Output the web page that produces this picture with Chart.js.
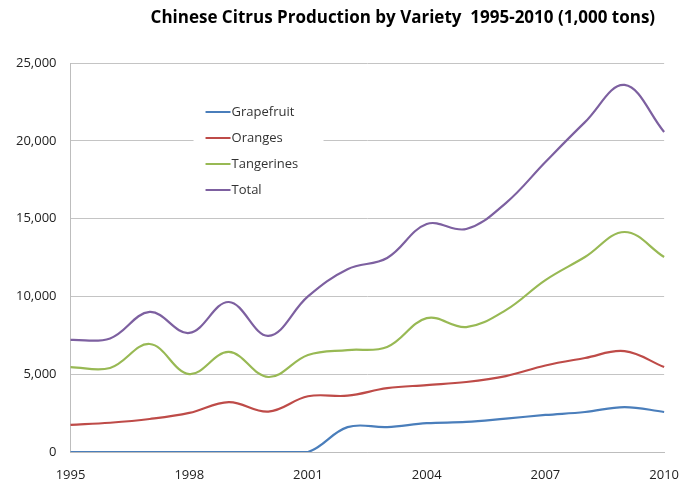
<!DOCTYPE html>
<html>
<head>
<meta charset="utf-8">
<script src="https://cdn.jsdelivr.net/npm/chart.js@4"></script>
<style>
    html, body { margin: 0; padding: 0; background: #fff; }
    #wrap { width: 694px; height: 479px; }
</style>
</head>
<body>
<div id="wrap"><canvas id="citrus"></canvas></div>
<script>
const years = ['1995', '1996', '1997', '1998', '1999', '2000', '2001', '2002',
    '2003', '2004', '2005', '2006', '2007', '2008', '2009', '2010'];
const grapefruit = [0, 0, 0, 0, 0, 0, 0, 1600, 1600, 1850, 1930, 2150, 2380, 2570, 2890, 2570];
const oranges = [1740, 1880, 2120, 2510, 3210, 2600, 3580, 3620, 4100, 4300, 4500, 4880, 5560, 6040, 6480, 5460];
const tangerines = [5460, 5400, 6940, 5010, 6430, 4820, 6230, 6550, 6750, 8600, 8030, 9120, 11050, 12530, 14140, 12530];
const totals = [7200, 7300, 9000, 7650, 9640, 7460, 10000, 11750, 12470, 14650, 14330, 16000, 18640, 21200, 23590, 20570];
const yTicks = [0, 5000, 10000, 15000, 20000, 25000];

const chartTitle = 'Chinese Citrus Production by Variety  1995-2010 (1,000 tons)';
const font = '"Open Sans", "DejaVu Sans", sans-serif';

// title sits right of center in the original, so draw it by hand
const titlePlugin = {
    id: 'titleText',
    afterDraw(chart) {
        const ctx = chart.ctx;
        ctx.save();
        ctx.font = 'bold 17px ' + font;
        ctx.fillStyle = '#000';
        ctx.textAlign = 'right';
        ctx.textBaseline = 'middle';
        ctx.fillText(chartTitle, chart.chartArea.right - 9, 18);
        ctx.restore();
    }
};

// legend box floating inside the plot area
const legendPlugin = {
    id: 'insideLegend',
    afterDraw(chart) {
        const ctx = chart.ctx;
        const area = chart.chartArea;
        const x = area.left + 135;
        const y = area.top + 49;
        ctx.save();
        ctx.fillStyle = '#fff';
        ctx.fillRect(x - 12, y - 12, 130, 100);
        ctx.font = '13px ' + font;
        ctx.textBaseline = 'middle';
        chart.data.datasets.forEach((ds, i) => {
            const rowY = y + i * 26;
            ctx.strokeStyle = ds.borderColor;
            ctx.lineWidth = 2;
            ctx.beginPath();
            ctx.moveTo(x, rowY);
            ctx.lineTo(x + 25, rowY);
            ctx.stroke();
            ctx.fillStyle = '#333';
            ctx.fillText(ds.label, x + 26, rowY);
        });
        ctx.restore();
    }
};

function makeSeries(label, data, color) {
    return {
        label: label,
        data: data,
        borderColor: color,
        backgroundColor: color,
        borderWidth: 2.2,
        pointRadius: 0,
        tension: 0.38,
        fill: false
    };
}

new Chart(document.getElementById('citrus'), {
    type: 'line',
    data: {
        labels: years,
        datasets: [
            makeSeries('Grapefruit', grapefruit, '#4a7ebb'),
            makeSeries('Oranges', oranges, '#be4b48'),
            makeSeries('Tangerines', tangerines, '#98b954'),
            makeSeries('Total', totals, '#7d60a0')
        ]
    },
    options: {
        responsive: true,
        maintainAspectRatio: false,
        animation: false,
        layout: {
            padding: { top: 63, left: 2, right: 23, bottom: 0 }
        },
        plugins: {
            legend: { display: false },
            title: { display: false },
            tooltip: { enabled: false }
        },
        scales: {
            x: {
                offset: false,
                grid: { display: false, drawTicks: false },
                border: { display: true, color: '#bdbdbd', width: 1 },
                // labels hang close to the bottom edge, as in the original
                afterFit: function (axis) {
                    axis.height = 27;
                },
                ticks: {
                    autoSkip: false,
                    maxRotation: 0,
                    padding: 15,
                    color: '#222',
                    font: { family: font, size: 13 },
                    callback: function (value, index) {
                        return index % 3 === 0 ? years[index] : '';
                    }
                }
            },
            y: {
                min: yTicks[0],
                max: yTicks[yTicks.length - 1],
                afterBuildTicks: function (axis) {
                    axis.ticks = yTicks.map(v => ({ value: v }));
                },
                grid: { color: '#c4c4c4', lineWidth: 1, drawTicks: false },
                border: { display: true, color: '#bdbdbd', width: 1 },
                ticks: {
                    padding: 14,
                    color: '#222',
                    font: { family: font, size: 13 },
                    callback: v => v.toLocaleString('en-US')
                }
            }
        }
    },
    plugins: [titlePlugin, legendPlugin]
});
</script>
</body>
</html>
